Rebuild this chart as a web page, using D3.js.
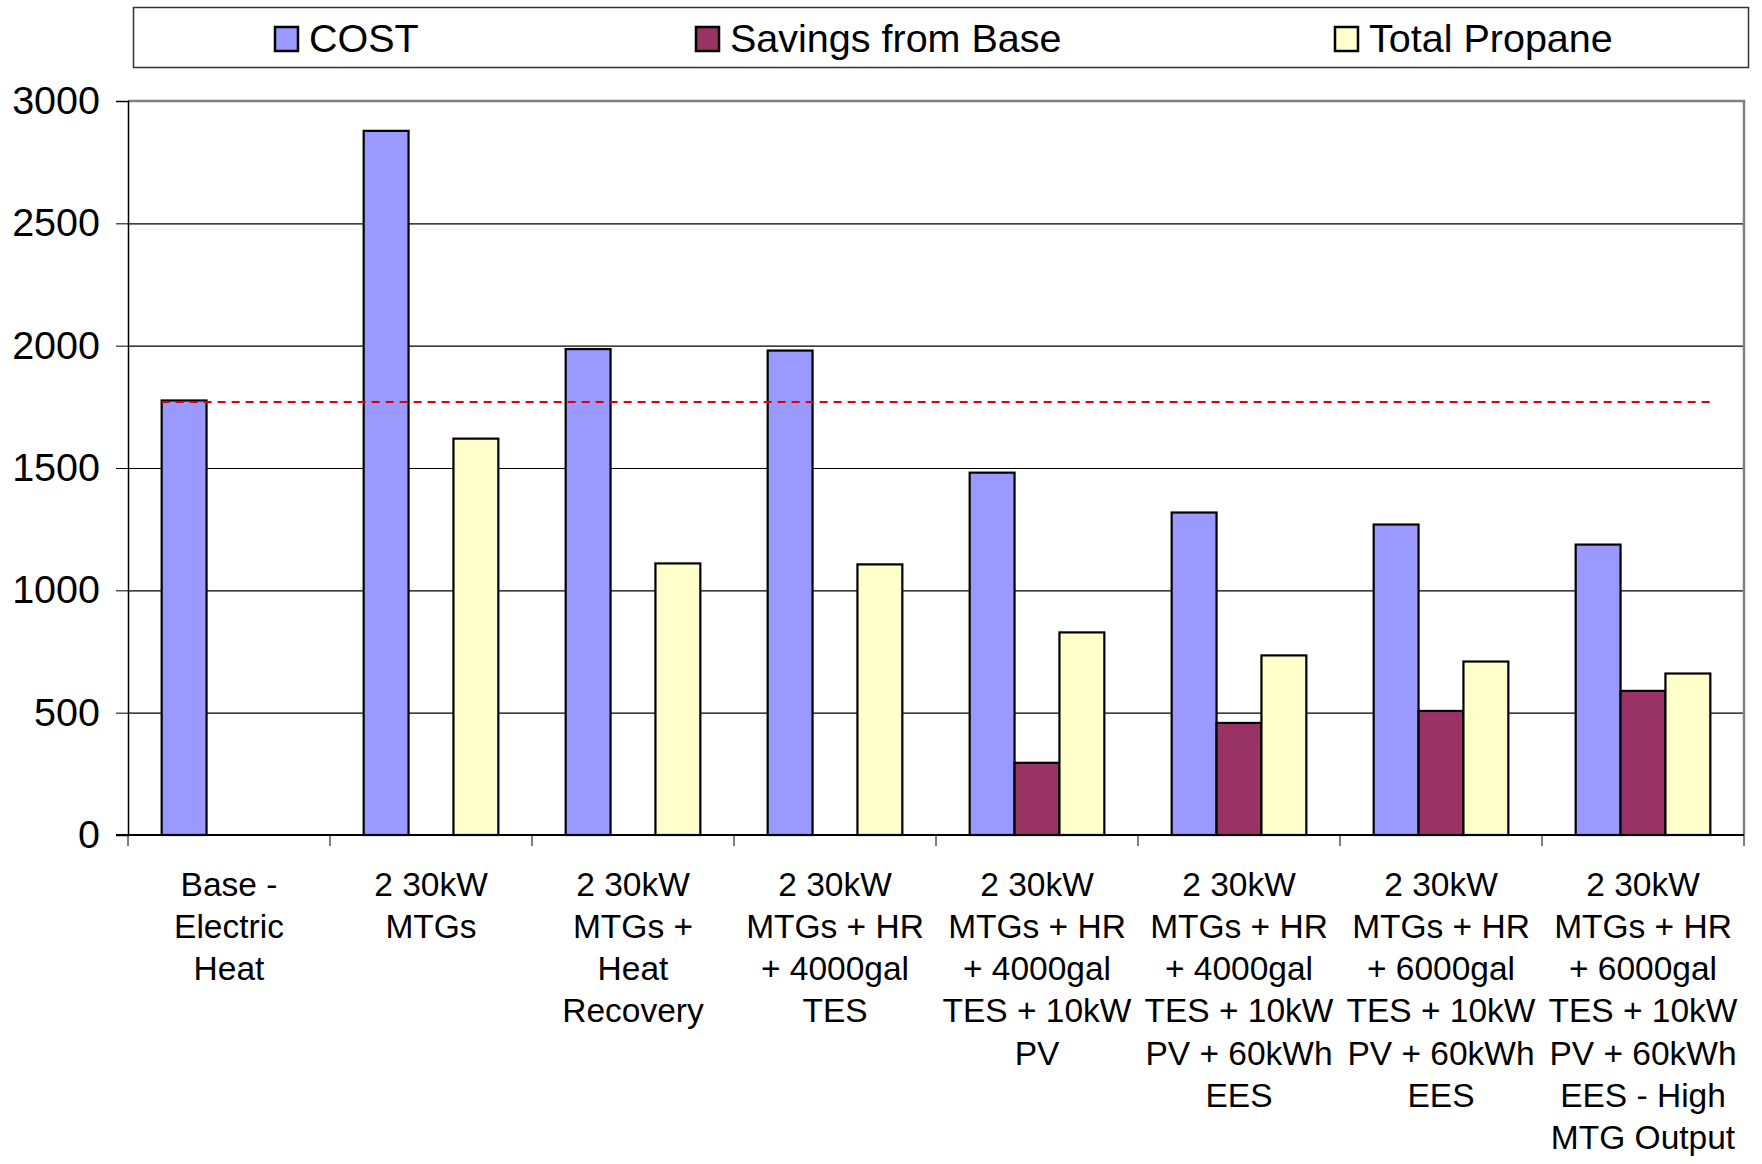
<!DOCTYPE html>
<html>
<head>
<meta charset="utf-8">
<script src="https://cdn.jsdelivr.net/npm/d3@7"></script>
<style>
  html, body { margin: 0; padding: 0; background: #fff; }
  svg { display: block; font-family: "Liberation Sans", Arial, sans-serif; }
</style>
</head>
<body>
<svg id="chart" width="1762" height="1164"></svg>
<script>
// Scenario categories (line breaks as they wrap under the axis)
const categories = [
  "Base -\nElectric\nHeat",
  "2 30kW\nMTGs",
  "2 30kW\nMTGs +\nHeat\nRecovery",
  "2 30kW\nMTGs + HR\n+ 4000gal\nTES",
  "2 30kW\nMTGs + HR\n+ 4000gal\nTES + 10kW\nPV",
  "2 30kW\nMTGs + HR\n+ 4000gal\nTES + 10kW\nPV + 60kWh\nEES",
  "2 30kW\nMTGs + HR\n+ 6000gal\nTES + 10kW\nPV + 60kWh\nEES",
  "2 30kW\nMTGs + HR\n+ 6000gal\nTES + 10kW\nPV + 60kWh\nEES - High\nMTG Output"
];

const seriesNames = ["COST", "Savings from Base", "Total Propane"];
const costValues = [1776, 2878, 1986, 1980, 1481, 1318, 1269, 1187];
const savingsValues = [null, null, null, null, 295, 458, 507, 589];
const propaneValues = [null, 1620, 1110, 1106, 828, 734, 709, 660];
const seriesColors = ["#9999FF", "#993366", "#FFFFCC"];

// Reference level: cost of the base case
const baseCost = 1776;

const yTicks = [0, 500, 1000, 1500, 2000, 2500, 3000];

const series = [costValues, savingsValues, propaneValues];

const svg = d3.select("#chart");

const plot = { left: 128, right: 1744, top: 101, bottom: 835 };

const x0 = d3.scaleBand()
  .domain(d3.range(categories.length))
  .range([plot.left, plot.right])
  .paddingInner(0).paddingOuter(0);

const bw = x0.bandwidth() / 4.5;
const x1 = d3.scaleBand()
  .domain(d3.range(series.length))
  .range([bw * 0.75, x0.bandwidth() - bw * 0.75])
  .padding(0);

const y = d3.scaleLinear().domain([0, 3000]).range([plot.bottom, plot.top]);

// Gridlines
svg.append("g")
  .selectAll("line")
  .data(yTicks.filter(t => t > 0 && t < 3000))
  .join("line")
  .attr("x1", plot.left).attr("x2", plot.right)
  .attr("y1", d => y(d) + 0.5).attr("y2", d => y(d) + 0.5)
  .attr("stroke", "#000").attr("stroke-width", 1.2);

// Plot border (top and right)
svg.append("path")
  .attr("d", `M${plot.left},${y(3000)}H${plot.right}V${plot.bottom}`)
  .attr("fill", "none").attr("stroke", "#808080").attr("stroke-width", 2.5);

// Bars
const groups = svg.append("g")
  .selectAll("g")
  .data(categories.map((c, i) => i))
  .join("g")
  .attr("transform", i => `translate(${x0(i)},0)`);

groups.selectAll("rect")
  .data(i => series.map((s, k) => ({ k, v: s[i] })).filter(d => d.v != null))
  .join("rect")
  .attr("x", d => x1(d.k))
  .attr("width", x1.bandwidth())
  .attr("y", d => y(d.v))
  .attr("height", d => y(0) - y(d.v))
  .attr("fill", d => seriesColors[d.k])
  .attr("stroke", "#000")
  .attr("stroke-width", 2.2);

// Base-cost reference line
svg.append("line")
  .attr("x1", x0(0) + x1(0))
  .attr("x2", x0(categories.length - 1) + x1(2) + x1.bandwidth())
  .attr("y1", y(baseCost) + 1.5).attr("y2", y(baseCost) + 1.5)
  .attr("stroke", "#E00000").attr("stroke-width", 2)
  .attr("stroke-dasharray", "8,6");

// Y axis
const yAxis = d3.axisLeft(y).tickValues(yTicks).tickSize(12).tickPadding(16)
  .tickFormat(d3.format("d"));
const yG = svg.append("g").attr("transform", `translate(${plot.left},0)`).call(yAxis);
yG.select(".domain").attr("stroke", "#000").attr("stroke-width", 1.5);
yG.selectAll(".tick line").attr("stroke", "#000").attr("stroke-width", 1);
yG.selectAll(".tick text")
  .attr("font-size", 39.5).attr("fill", "#000")
  .attr("font-family", "'Liberation Sans', Arial, sans-serif");

// X axis line and category boundary ticks
svg.append("line")
  .attr("x1", plot.left - 12).attr("x2", plot.right)
  .attr("y1", plot.bottom).attr("y2", plot.bottom)
  .attr("stroke", "#000").attr("stroke-width", 2);
svg.append("g")
  .selectAll("line")
  .data(d3.range(categories.length + 1))
  .join("line")
  .attr("x1", i => i < categories.length ? x0(i) : plot.right)
  .attr("x2", i => i < categories.length ? x0(i) : plot.right)
  .attr("y1", plot.bottom).attr("y2", plot.bottom + 11)
  .attr("stroke", "#000").attr("stroke-width", 1);

// Category labels
const lab = svg.append("g")
  .selectAll("text")
  .data(categories.map((c, i) => ({ i, lines: c.split("\n") })))
  .join("text")
  .attr("text-anchor", "middle")
  .attr("font-size", 33.5)
  .attr("fill", "#000");
lab.selectAll("tspan")
  .data(d => d.lines.map((l, j) => ({ l, j, i: d.i })))
  .join("tspan")
  .attr("x", d => x0(d.i) + x0.bandwidth() / 2)
  .attr("y", d => 884 + d.j * 42.2)
  .attr("dy", "0.35em")
  .text(d => d.l);

// Legend
const legend = svg.append("g");
legend.append("rect")
  .attr("x", 133.5).attr("y", 7.5).attr("width", 1615).attr("height", 60)
  .attr("fill", "#fff").attr("stroke", "#333").attr("stroke-width", 1.5);

const legendX = [275, 696, 1335];
const item = legend.selectAll("g.item")
  .data(seriesNames.map((n, k) => ({ n, k })))
  .join("g").attr("class", "item")
  .attr("transform", d => `translate(${legendX[d.k]},0)`);
item.append("rect")
  .attr("x", 0).attr("y", 27).attr("width", 23).attr("height", 24)
  .attr("fill", d => seriesColors[d.k])
  .attr("stroke", "#000").attr("stroke-width", 2.5);
item.append("text")
  .attr("x", 34).attr("y", 38).attr("dy", "0.35em")
  .attr("font-size", 39.5).attr("fill", "#000")
  .text(d => d.n);
</script>
</body>
</html>
